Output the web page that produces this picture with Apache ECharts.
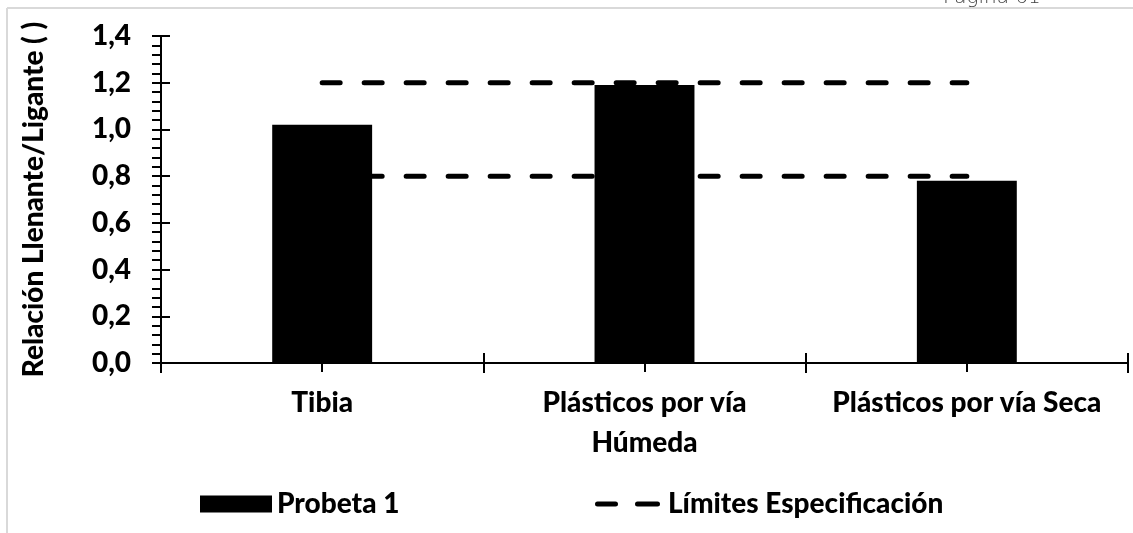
<!DOCTYPE html>
<html>
<head>
<meta charset="utf-8">
<title>Relación Llenante/Ligante</title>
<script src="https://cdn.jsdelivr.net/npm/echarts@6/dist/echarts.min.js"></script>
<style>
  html, body { margin: 0; padding: 0; background: #ffffff; }
  #chart { width: 1133px; height: 533px; }
</style>
</head>
<body>
<div id="chart"></div>
<script>
// Mezclas ensayadas
const categories = ['Tibia', 'Plásticos por vía\nHúmeda', 'Plásticos por vía Seca'];
// Relación llenante/ligante medida en la probeta 1
const probeta1 = [1.02, 1.19, 0.78];
// Límites de especificación (superior e inferior)
const limiteSuperior = [1.2, 1.2, 1.2];
const limiteInferior = [0.8, 0.8, 0.8];
// Etiquetas del eje vertical
const yTickLabels = ['0,0', '0,2', '0,4', '0,6', '0,8', '1,0', '1,2', '1,4'];

const FONT = 'Lato, "Open Sans", sans-serif';
const WEIGHT = 900;
const SIZE = 28;
const INK = '#000000';

// icono de leyenda: dos trazos redondeados
const DASH_ICON = 'path://M2.5,0L20.5,0A2.5,2.5 0 0 1 20.5,5L2.5,5A2.5,2.5 0 0 1 2.5,0Z' +
                  'M42.5,0L62.5,0A2.5,2.5 0 0 1 62.5,5L42.5,5A2.5,2.5 0 0 1 42.5,0Z';

const chart = echarts.init(document.getElementById('chart'), null, { renderer: 'canvas' });

const yBase = { type: 'value', min: 0, max: 1.4, interval: 0.2, position: 'left' };
const xBase = { type: 'category', data: categories, position: 'bottom', boundaryGap: true };
const tickLine = { color: INK, width: 2 };

chart.setOption({
  animation: false,
  backgroundColor: '#ffffff',
  grid: { left: 161, right: 5, top: 36, bottom: 170, containLabel: false },
  xAxis: [
    Object.assign({}, xBase, {
      axisLine: { show: true, lineStyle: { color: INK, width: 2 } },
      axisTick: { show: true, inside: false, length: 10, alignWithLabel: false, lineStyle: tickLine },
      axisLabel: {
        color: INK, fontFamily: FONT, fontWeight: WEIGHT, fontSize: SIZE,
        margin: 20, lineHeight: 40, interval: 0
      },
      splitLine: { show: false }
    }),
    Object.assign({}, xBase, {
      axisLine: { show: false },
      axisTick: { show: true, inside: true, length: 10, alignWithLabel: false, lineStyle: tickLine },
      axisLabel: { show: false },
      splitLine: { show: false }
    }),
    Object.assign({}, xBase, {
      axisLine: { show: false },
      axisTick: { show: true, inside: false, length: 9, alignWithLabel: true, lineStyle: tickLine },
      axisLabel: { show: false },
      splitLine: { show: false }
    })
  ],
  yAxis: [
    Object.assign({}, yBase, {
      name: 'Relación Llenante/Ligante ( )',
      nameLocation: 'middle',
      nameGap: 113,
      nameTextStyle: { color: INK, fontFamily: FONT, fontWeight: WEIGHT, fontSize: SIZE },
      axisLine: { show: true, lineStyle: { color: INK, width: 2 } },
      axisTick: { show: true, inside: false, length: 9, lineStyle: tickLine },
      minorTick: { show: true, splitNumber: 5, length: 9, lineStyle: tickLine },
      axisLabel: {
        color: INK, fontFamily: FONT, fontWeight: WEIGHT, fontSize: SIZE, margin: 30,
        formatter: function (v) { return yTickLabels[Math.round(v / 0.2)]; }
      },
      splitLine: { show: false },
      minorSplitLine: { show: false }
    }),
    Object.assign({}, yBase, {
      axisLine: { show: false },
      axisTick: { show: true, inside: true, length: 9, lineStyle: tickLine },
      axisLabel: { show: false },
      splitLine: { show: false }
    })
  ],
  legend: [
    {
      data: [{ name: 'Probeta 1', icon: 'rect' }],
      left: 200, top: 490, padding: 0,
      itemWidth: 72, itemHeight: 17, itemGap: 0,
      textStyle: { color: INK, fontFamily: FONT, fontWeight: WEIGHT, fontSize: SIZE },
      selectedMode: false
    },
    {
      data: [{ name: 'Límites Especificación', icon: DASH_ICON }],
      left: 595, top: 490, padding: 0,
      itemWidth: 65, itemHeight: 5, itemGap: 0,
      itemStyle: { color: INK, borderWidth: 0 },
      textStyle: { color: INK, fontFamily: FONT, fontWeight: WEIGHT, fontSize: SIZE, padding: [0, 0, 0, 3] },
      selectedMode: false
    }
  ],
  graphic: [
    // marco de la página
    { type: 'line', shape: { x1: 7, y1: 8, x2: 1133, y2: 8 }, style: { stroke: '#d9d9d9', lineWidth: 2 }, silent: true },
    { type: 'line', shape: { x1: 7, y1: 8, x2: 7, y2: 533 }, style: { stroke: '#d9d9d9', lineWidth: 2 }, silent: true },
    {
      type: 'text', x: 943, y: 8, silent: true,
      style: { text: 'Página 61', fill: '#404040', font: '300 20px "DejaVu Sans", sans-serif', verticalAlign: 'bottom' }
    }
  ],
  series: [
    {
      name: 'Probeta 1',
      type: 'bar',
      data: probeta1,
      barWidth: '31%',
      itemStyle: { color: INK }
    },
    {
      name: 'Límites Especificación',
      type: 'line',
      data: limiteSuperior,
      symbol: 'none',
      lineStyle: { color: INK, width: 5, type: [18, 24], cap: 'round' },
      itemStyle: { color: INK }
    },
    {
      name: 'Límites Especificación',
      type: 'line',
      data: limiteInferior,
      symbol: 'none',
      lineStyle: { color: INK, width: 5, type: [18, 24], cap: 'round' },
      itemStyle: { color: INK }
    }
  ]
});
</script>
</body>
</html>
